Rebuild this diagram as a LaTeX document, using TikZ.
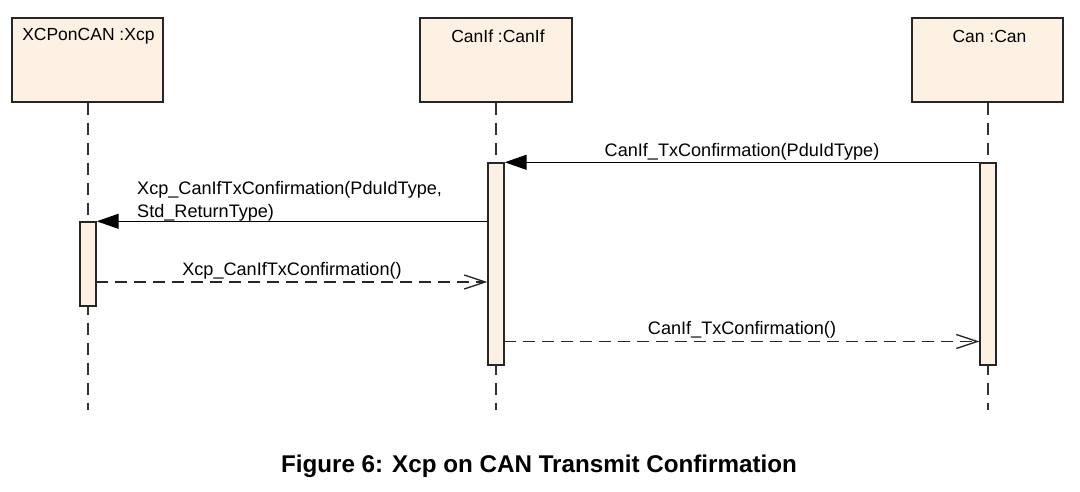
\documentclass[tikz,border=0pt]{standalone}
\usepackage{fontspec}
\setmainfont{Liberation Sans}
\usetikzlibrary{arrows.meta}
\definecolor{objfill}{RGB}{253,241,228}
\begin{document}
\begin{tikzpicture}[x=1pt,y=-1pt,
  objbox/.style={draw=black!85, line width=1.4pt, fill=objfill, minimum width=#1, minimum height=84pt, inner sep=0pt},
  actbar/.style={draw=black!85, line width=1.4pt, fill=objfill, minimum width=16pt, inner sep=0pt},
  lifeline/.style={draw=black!80, line width=1.6pt, dash pattern=on 12pt off 8pt},
  syncmsg/.style={draw=black, line width=1.3pt, -{Triangle[length=22pt,width=15pt]}},
  retmsg/.style={draw=black!85, line width=1.3pt, dash pattern=on 12pt off 7pt, -{Straight Barb[length=21pt,width=14pt,line width=1.3pt]}},
  lbl/.style={font=\fontsize{18.1}{21}\selectfont, inner sep=0pt},
  ttl/.style={font=\fontsize{17.5}{20}\selectfont, inner sep=0pt, anchor=center}
]
\useasboundingbox (0,0) rectangle (1080,492);
% lifelines
\coordinate (e1) at (88,410);
\coordinate (e2) at (496,410);
\coordinate (e3) at (988,410);
\node[objbox=151pt] (xcp) at (87.5,60) {};
\node[objbox=152pt] (canif) at (496,60) {};
\node[objbox=151pt] (can) at (987.5,60) {};
\node[ttl] (t1) at (88.4,36) {XCPonCAN :Xcp};
\node[ttl] (t2) at (498,36) {CanIf :CanIf};
\node[ttl] (t3) at (989.5,36) {Can :Can};
\draw[lifeline] (xcp.south -| e1) -- (e1);
\draw[lifeline] (canif.south -| e2) -- (e2);
\draw[lifeline] (can.south -| e3) -- (e3);
% activation bars
\node[actbar, minimum height=84pt] (a1) at (88,264) {};
\node[actbar, minimum height=202pt] (a2) at (496,264) {};
\node[actbar, minimum height=202pt] (a3) at (988,264) {};
% messages
\draw[syncmsg] (a3.north west) -- (a3.north west -| a2.east);
\node[lbl] (l1) at (742,152) {CanIf\_TxConfirmation(PduIdType)};
\draw[syncmsg] (a2.west |- a1.north) -- (a1.north east);
\node[lbl, anchor=west, align=left] (l2) at (137,201) {Xcp\_CanIfTxConfirmation(PduIdType,\\[2pt]Std\_ReturnType)};
\coordinate (m3) at (96,282);
\draw[retmsg] (m3) -- (m3 -| a2.west);
\node[lbl] (l3) at (292,271) {Xcp\_CanIfTxConfirmation()};
\coordinate (m4) at (504,341.5);
\draw[retmsg] (m4) -- (m4 -| a3.west);
\node[lbl] (l4) at (742,330) {CanIf\_TxConfirmation()};
% caption
\node[font=\bfseries\fontsize{24.2}{28}\selectfont, inner sep=0pt] (cap) at (539,466) {Figure 6: Xcp on CAN Transmit Confirmation};
\end{tikzpicture}
\end{document}
